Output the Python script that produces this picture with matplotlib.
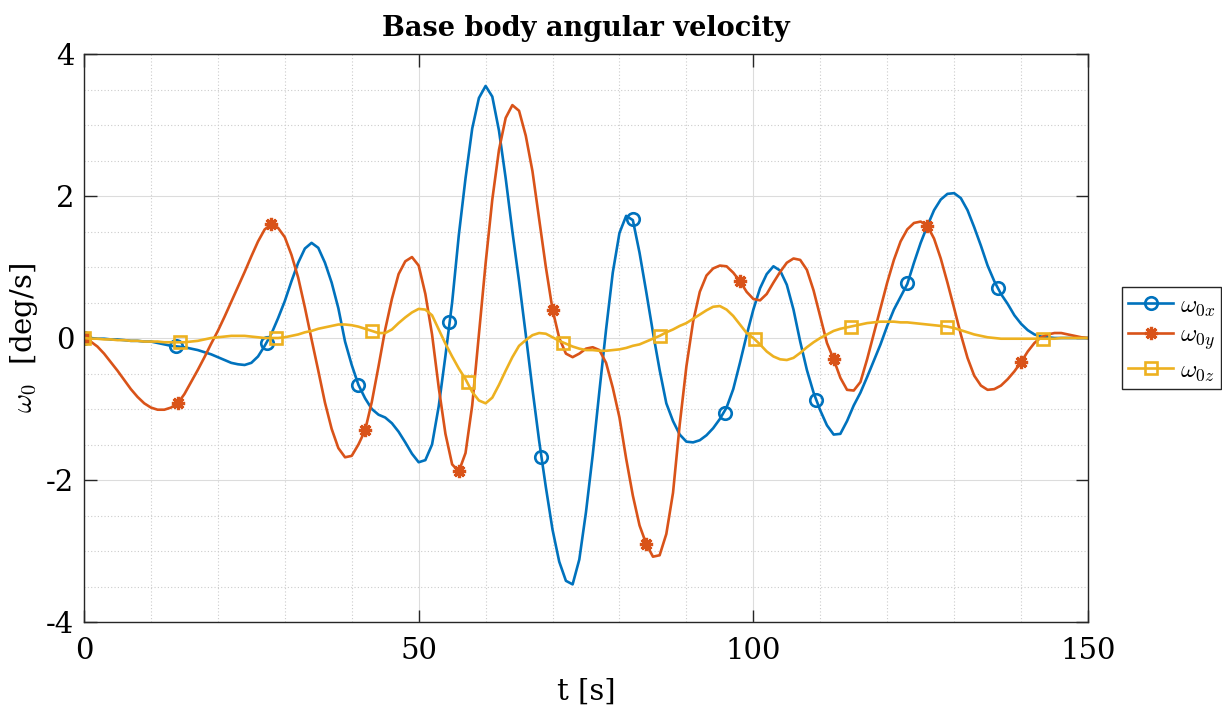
import numpy as np
import matplotlib
matplotlib.use("Agg")
import matplotlib.pyplot as plt
from matplotlib.lines import Line2D
from matplotlib.ticker import MultipleLocator

plt.rcParams['font.family'] = ['DejaVu Serif']
plt.rcParams['mathtext.fontset'] = 'cm'
plt.rcParams['axes.unicode_minus'] = False

# time axis [s], one sample per second
t = np.arange(0, 151)

# omega_0x [deg/s]
w0x = [0.00, 0.00, -0.01, -0.01, -0.02, -0.02, -0.03, -0.04, -0.04, -0.05,
       -0.05, -0.07, -0.09, -0.11, -0.12, -0.13, -0.15, -0.17, -0.20, -0.23,
       -0.27, -0.31, -0.35, -0.37, -0.38, -0.35, -0.26, -0.11, 0.06, 0.28,
       0.52, 0.80, 1.06, 1.26, 1.34, 1.27, 1.06, 0.78, 0.42, -0.05,
       -0.38, -0.66, -0.85, -1.00, -1.08, -1.12, -1.20, -1.32, -1.47, -1.63,
       -1.75, -1.72, -1.50, -0.96, -0.25, 0.50, 1.45, 2.25, 2.95, 3.38,
       3.55, 3.40, 2.92, 2.25, 1.50, 0.80, 0.05, -0.72, -1.45, -2.10,
       -2.70, -3.15, -3.42, -3.47, -3.12, -2.45, -1.65, -0.75, 0.12, 0.92,
       1.48, 1.72, 1.66, 1.20, 0.65, 0.08, -0.45, -0.92, -1.17, -1.36,
       -1.46, -1.47, -1.44, -1.37, -1.27, -1.14, -0.98, -0.72, -0.35, 0.04,
       0.40, 0.70, 0.90, 1.01, 0.95, 0.75, 0.40, -0.05, -0.45, -0.77,
       -1.02, -1.23, -1.36, -1.35, -1.17, -0.95, -0.77, -0.55, -0.32, -0.09,
       0.17, 0.40, 0.58, 0.76, 1.06, 1.34, 1.58, 1.80, 1.95, 2.03,
       2.04, 1.97, 1.80, 1.56, 1.30, 1.02, 0.80, 0.62, 0.48, 0.32,
       0.20, 0.11, 0.05, 0.02, 0.01, 0.00, 0.00, 0.00, 0.00, 0.00,
       0.00]

# omega_0y [deg/s]
w0y = [0.00, -0.05, -0.12, -0.22, -0.34, -0.46, -0.59, -0.72, -0.83, -0.92,
       -0.98, -1.01, -1.01, -0.98, -0.92, -0.79, -0.62, -0.45, -0.27, -0.08,
       0.10, 0.30, 0.51, 0.72, 0.93, 1.15, 1.36, 1.53, 1.60, 1.55,
       1.42, 1.17, 0.85, 0.43, -0.02, -0.46, -0.91, -1.28, -1.55, -1.68,
       -1.66, -1.50, -1.30, -0.90, -0.40, 0.12, 0.55, 0.90, 1.08, 1.14,
       1.02, 0.62, 0.05, -0.70, -1.35, -1.78, -1.88, -1.62, -0.95, 0.05,
       1.05, 1.95, 2.65, 3.10, 3.28, 3.20, 2.85, 2.35, 1.68, 1.00,
       0.40, 0.00, -0.22, -0.27, -0.22, -0.15, -0.13, -0.17, -0.35, -0.70,
       -1.12, -1.70, -2.22, -2.64, -2.90, -3.08, -3.06, -2.76, -2.18, -1.22,
       -0.40, 0.23, 0.65, 0.88, 0.98, 1.02, 1.01, 0.92, 0.80, 0.65,
       0.55, 0.53, 0.62, 0.78, 0.93, 1.06, 1.12, 1.10, 0.96, 0.67,
       0.30, -0.07, -0.30, -0.56, -0.73, -0.74, -0.62, -0.30, 0.06, 0.42,
       0.78, 1.10, 1.36, 1.53, 1.62, 1.64, 1.58, 1.40, 1.12, 0.78,
       0.42, 0.05, -0.28, -0.53, -0.67, -0.73, -0.72, -0.67, -0.58, -0.47,
       -0.34, -0.19, -0.07, 0.01, 0.05, 0.07, 0.07, 0.05, 0.03, 0.01,
       0.00]

# omega_0z [deg/s]
w0z = [0.00, -0.01, -0.01, -0.02, -0.02, -0.03, -0.03, -0.04, -0.04, -0.05,
       -0.05, -0.05, -0.06, -0.06, -0.06, -0.06, -0.05, -0.04, -0.02, 0.00,
       0.01, 0.02, 0.03, 0.03, 0.03, 0.02, 0.01, 0.00, 0.00, 0.00,
       0.01, 0.03, 0.05, 0.08, 0.10, 0.13, 0.15, 0.17, 0.19, 0.19,
       0.18, 0.16, 0.13, 0.10, 0.07, 0.07, 0.12, 0.21, 0.29, 0.36,
       0.41, 0.40, 0.32, 0.12, -0.08, -0.26, -0.43, -0.58, -0.76, -0.88,
       -0.92, -0.84, -0.66, -0.46, -0.27, -0.11, -0.03, 0.04, 0.07, 0.06,
       0.01, -0.04, -0.08, -0.12, -0.15, -0.17, -0.17, -0.18, -0.18, -0.17,
       -0.16, -0.14, -0.11, -0.09, -0.05, -0.01, 0.03, 0.08, 0.12, 0.17,
       0.21, 0.27, 0.33, 0.39, 0.44, 0.45, 0.40, 0.31, 0.19, 0.07,
       0.00, -0.09, -0.19, -0.26, -0.30, -0.31, -0.28, -0.21, -0.13, -0.06,
       0.00, 0.05, 0.10, 0.13, 0.15, 0.17, 0.19, 0.21, 0.22, 0.23,
       0.23, 0.23, 0.22, 0.22, 0.21, 0.20, 0.19, 0.18, 0.17, 0.16,
       0.14, 0.11, 0.08, 0.05, 0.03, 0.01, 0.00, -0.01, -0.01, -0.01,
       -0.01, -0.01, -0.01, -0.01, -0.01, -0.01, 0.00, 0.00, 0.00, 0.00,
       0.00]

# marker positions
mk_x_t = [0, 13.7, 27.4, 41.0, 54.6, 68.3, 82.0, 95.7, 109.4, 123.0, 136.6]
mk_x_v = [0, -0.11, -0.07, -0.66, 0.22, -1.68, 1.67, -1.06, -0.87, 0.77, 0.70]
mk_y_t = [0, 14, 28, 42, 56, 70, 84, 98, 112, 126, 140]
mk_y_v = [0, -0.92, 1.60, -1.30, -1.88, 0.40, -2.90, 0.80, -0.30, 1.58, -0.34]
mk_z_t = [0, 14.4, 28.7, 43.0, 57.3, 71.6, 86.0, 100.3, 114.6, 129.0, 143.3]
mk_z_v = [0, -0.06, 0.00, 0.10, -0.62, -0.07, 0.03, -0.01, 0.15, 0.16, -0.01]

labels = [r'$\omega_{0x}$', r'$\omega_{0y}$', r'$\omega_{0z}$']
colors = ['#0072BD', '#D95319', '#EDB120']

W, H = 1222, 716
fig = plt.figure(figsize=(W / 100, H / 100), dpi=100)
ax = fig.add_axes([84 / W, 1 - 622 / H, (1088 - 84) / W, (622 - 54) / H])

lw = 1.9
mo = dict(marker='o', ms=9, mfc='none', mec=colors[0], mew=1.9)
ma = dict(marker=(8, 2, 0), ms=9.5, mec=colors[1], mew=2.3)
ms_ = dict(marker='s', ms=8, mfc='none', mec=colors[2], mew=1.9)

ax.plot(t, w0x, color=colors[0], lw=lw, solid_joinstyle='round')
ax.plot(mk_x_t, mk_x_v, ls='none', **mo)
ax.plot(t, w0y, color=colors[1], lw=lw, solid_joinstyle='round')
ax.plot(mk_y_t, mk_y_v, ls='none', **ma)
ax.plot(t, w0z, color=colors[2], lw=lw, solid_joinstyle='round')
ax.plot(mk_z_t, mk_z_v, ls='none', **ms_)

ax.set_xlim(0, 150)
ax.set_ylim(-4, 4)
ax.set_xticks([0, 50, 100, 150])
ax.set_yticks([-4, -2, 0, 2, 4])
ax.xaxis.set_minor_locator(MultipleLocator(10))
ax.yaxis.set_minor_locator(MultipleLocator(0.5))
ax.tick_params(which='major', direction='in', length=9, width=1,
               color='#262626', labelsize=21, top=True, right=True)
ax.tick_params(axis='x', which='major', pad=11)
ax.tick_params(axis='y', which='major', pad=7)
ax.tick_params(which='minor', length=0)
ax.grid(True, which='major', color='#dcdcdc', lw=0.8, ls='-')
ax.grid(True, which='minor', color='#cccccc', lw=0.8, ls=(0, (1, 2)))
ax.set_axisbelow(True)
for s in ax.spines.values():
    s.set_color('#262626')
    s.set_linewidth(1.0)

ax.set_title('Base body angular velocity', fontsize=19.5, fontweight='bold',
             pad=13)
ax.set_xlabel('t [s]', fontsize=21, labelpad=9)
ax.set_ylabel(r'$\omega_0$  [deg/s]', fontsize=21, labelpad=4)

handles = [
    Line2D([], [], color=colors[0], lw=lw, **mo),
    Line2D([], [], color=colors[1], lw=lw, **ma),
    Line2D([], [], color=colors[2], lw=lw, **ms_),
]
leg = fig.legend(handles, labels, loc='center left',
                 bbox_to_anchor=(1122 / W, 1 - 338 / H), fontsize=18,
                 fancybox=False, framealpha=1, edgecolor='#262626',
                 handlelength=1.8, handletextpad=0.25, borderpad=0.25,
                 labelspacing=0.25, borderaxespad=0)
leg.get_frame().set_linewidth(1.0)

fig.savefig('out.png', dpi=100)
